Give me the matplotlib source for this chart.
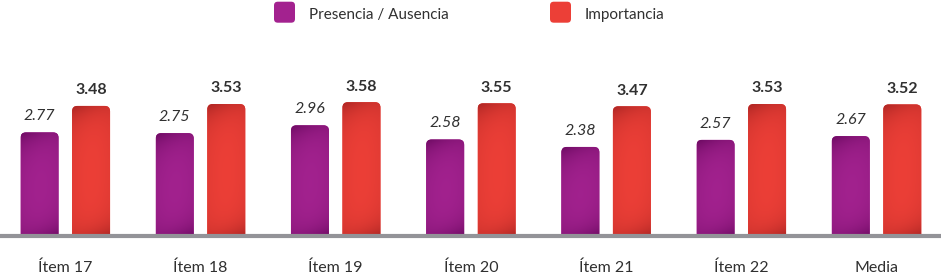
import numpy as np
import matplotlib
matplotlib.use("Agg")
import matplotlib.pyplot as plt
from matplotlib.patches import FancyBboxPatch
from matplotlib.colors import to_rgb

# Data
categories = ["Ítem 17", "Ítem 18", "Ítem 19", "Ítem 20", "Ítem 21", "Ítem 22", "Media"]
presencia = [2.77, 2.75, 2.96, 2.58, 2.38, 2.57, 2.67]
importancia = [3.48, 3.53, 3.58, 3.55, 3.47, 3.53, 3.52]
series_names = ["Presencia / Ausencia", "Importancia"]

plt.rcParams["font.family"] = ["Lato", "DejaVu Sans"]

W, H, DPI = 941, 274, 100
fig = plt.figure(figsize=(W / DPI, H / DPI), dpi=DPI)
base_px = 235.7          # baseline position from the top, pixels
px_unit = 37.3           # pixels per value unit
ax = fig.add_axes([0, (H - base_px) / H, 1, base_px / H])
ax.set_xlim(-0.483, 6.477)
ax.set_ylim(0, base_px / px_unit)
ax.axis("off")

x_px_unit = 135.2
bar_w = 38 / x_px_unit
offset = 25.75 / x_px_unit

purple = ("#6a0960", "#a3228f")
red = ("#a82422", "#ec3f37")
txt = "#303030"


def draw_bar(xc, h, cols):
    dark, light = np.array(to_rgb(cols[0])), np.array(to_rgb(cols[1]))
    x0 = xc - bar_w / 2
    patch = FancyBboxPatch((x0, -0.5), bar_w, h + 0.5,
                           boxstyle="round,pad=0,rounding_size=0.04",
                           mutation_aspect=3.6, facecolor=light, edgecolor="none")
    ax.add_patch(patch)
    ny, nx = 200, 40
    yy = np.linspace(0, h * px_unit, ny)[:, None]
    xf = np.linspace(0, 1, nx)[None, :]
    dtop = (h * px_unit - yy) + 14 * xf
    dbot = yy + 12 * (1 - xf)
    f = 1 - 0.95 * np.exp(-dtop / 14) - 0.95 * np.exp(-dbot / 12)
    # slight darkening toward the edges
    f = f * (0.82 + 0.18 * np.sin(np.pi * (0.1 + 0.8 * xf)))
    f = np.clip(f, 0, 1)
    img = dark[None, None, :] + (light - dark)[None, None, :] * f[:, :, None]
    im = ax.imshow(img, extent=(x0, x0 + bar_w, 0, h), origin="lower",
                   aspect="auto", interpolation="bilinear", zorder=2)
    im.set_clip_path(patch)


x = np.arange(len(categories))
for i in range(len(categories)):
    draw_bar(x[i] - offset, presencia[i], purple)
    draw_bar(x[i] + offset, importancia[i], red)
    ax.text(x[i] - offset, presencia[i] + 12 / px_unit, f"{presencia[i]:.2f}",
            ha="center", va="baseline", fontsize=11.5, style="italic",
            color=txt)
    ax.text(x[i] + offset, importancia[i] + 11.6 / px_unit, f"{importancia[i]:.2f}",
            ha="center", va="baseline", fontsize=11.5, fontweight="bold",
            color=txt)
    ax.text(x[i], -36 / px_unit, categories[i], ha="center", va="baseline",
            fontsize=11.5, color=txt, clip_on=False)

ax.axhline(0, color="#939398", linewidth=3, zorder=3, clip_on=False)

# Legend
for (sx, tx, cols, name) in [(274, 309, purple, series_names[0]),
                             (550, 585, red, series_names[1])]:
    sq = FancyBboxPatch((sx / W, 1 - 22.7 / H), 21 / W, 21 / H,
                        boxstyle="round,pad=0,rounding_size=0.004",
                        mutation_aspect=W / H, transform=fig.transFigure,
                        facecolor=cols[1], edgecolor="none")
    fig.patches.append(sq)
    fig.text(tx / W, 1 - 19 / H, name, ha="left", va="baseline",
             fontsize=11, color=txt)

fig.savefig("out.png", dpi=DPI)
